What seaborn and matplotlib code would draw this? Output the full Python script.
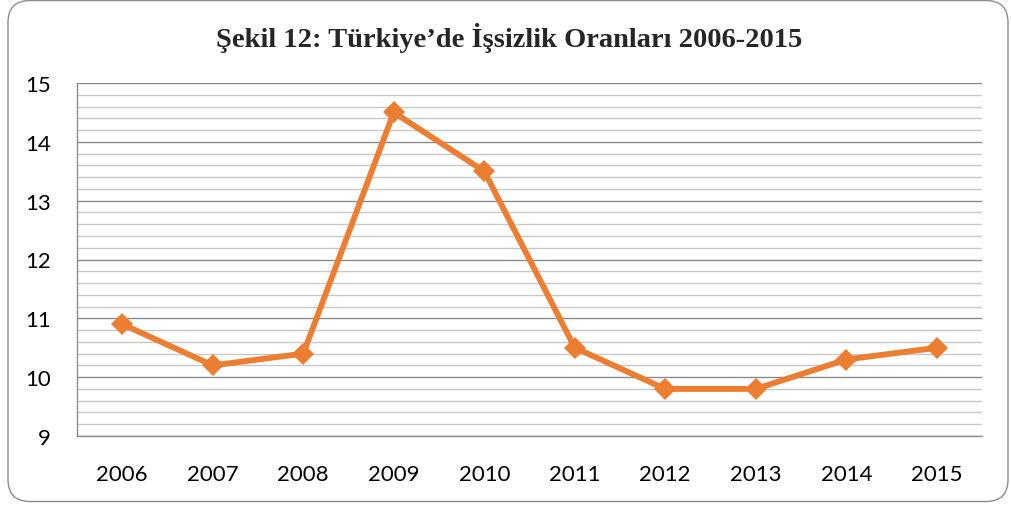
import pandas as pd
import numpy as np
from matplotlib import pyplot as plt
from matplotlib.patches import FancyBboxPatch
from matplotlib.ticker import MultipleLocator
import seaborn as sns

years = ['2006', '2007', '2008', '2009', '2010', '2011', '2012', '2013', '2014', '2015']
rates = [10.9, 10.2, 10.4, 14.5, 13.5, 10.5, 9.8, 9.8, 10.3, 10.5]
title = 'Şekil 12: Türkiye’de İşsizlik Oranları 2006-2015'

df = pd.DataFrame({'year': years, 'rate': rates})

sns.set_style('white')
plt.rcParams['font.family'] = ['Lato', 'DejaVu Sans']

fig = plt.figure(figsize=(10.12, 5.06), dpi=100)
ax = fig.add_axes([77 / 1012, 69 / 506, 905 / 1012, 353 / 506])

sns.lineplot(data=df, x='year', y='rate', ax=ax, color='#ED7D31', linewidth=4.2,
             marker='D', markersize=11, markeredgewidth=0, sort=False)

ax.set_xlim(-0.5, 9.5)
ax.set_ylim(9, 15)
ax.yaxis.set_major_locator(MultipleLocator(1))
ax.yaxis.set_minor_locator(MultipleLocator(0.2))
ax.grid(axis='y', which='major', color='#8C8C8C', linewidth=1)
ax.grid(axis='y', which='minor', color='#C8C8C8', linewidth=1)
ax.set_axisbelow(True)
for s in ['top', 'right']:
    ax.spines[s].set_visible(False)
for s in ['left', 'bottom']:
    ax.spines[s].set_color('#8C8C8C')
    ax.spines[s].set_linewidth(1)
ax.tick_params(axis='both', which='both', length=0, labelsize=16, colors='black')
ax.tick_params(axis='y', pad=19)
ax.tick_params(axis='x', pad=20)
ax.set_xlabel('')
ax.set_ylabel('')

fig.text(0.503, 0.925, title, ha='center', va='center', fontsize=20.5,
         fontweight='bold', family=['Liberation Serif', 'DejaVu Serif'])

box = FancyBboxPatch((0.08, 0.035), 10.0, 5.01, boxstyle='round,pad=0,rounding_size=0.22',
                     transform=fig.dpi_scale_trans, facecolor='none', edgecolor='#8C8C8C',
                     linewidth=1, clip_on=False)
fig.patches.append(box)

plt.savefig('out.png', dpi=100)
